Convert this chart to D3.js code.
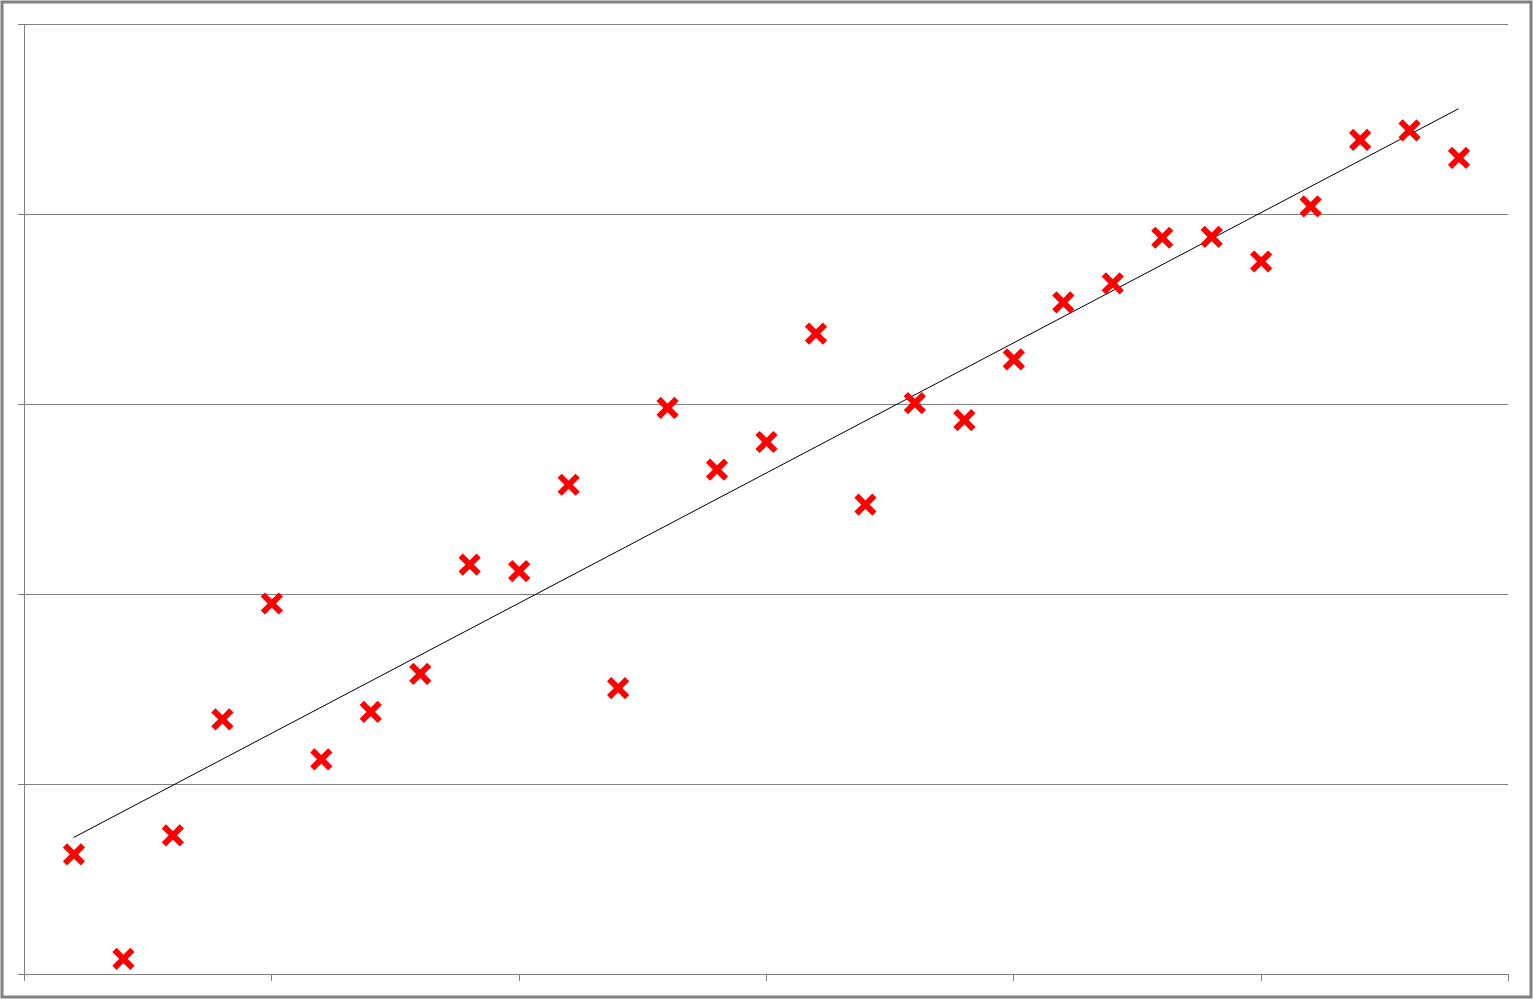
<!DOCTYPE html>
<meta charset="utf-8">
<title>Scatter with trend line</title>
<style>
    body { margin: 0; background: #fff; }
    svg { display: block; }
    .grid line { stroke: #808080; stroke-width: 1px; shape-rendering: crispEdges; }
    .axis path, .axis line { stroke: #808080; stroke-width: 1px; shape-rendering: crispEdges; }
    .trend { fill: none; stroke: #000; stroke-width: 1px; }
    .mark { stroke: #ff0000; stroke-width: 6px; }
</style>
<body>
<div id="chart"></div>
<script src="https://d3js.org/d3.v7.min.js"></script>
<script>

    // data
    var xValues = [1, 2, 3, 4, 5, 6, 7, 8, 9, 10, 11, 12, 13, 14, 15, 16, 17, 18, 19, 20,
                   21, 22, 23, 24, 25, 26, 27, 28, 29];
    var yValues = [12.6, 1.6, 14.6, 26.8, 39.0, 22.6, 27.6, 31.6, 43.1, 42.4, 51.5, 30.1,
                   59.6, 53.1, 56.0, 67.4, 49.4, 60.1, 58.3, 64.7, 70.7, 72.7, 77.5, 77.6,
                   75.0, 80.8, 87.8, 88.8, 85.9];
    var xTicks = [0, 5, 10, 15, 20, 25, 30];
    var yTicks = [0, 20, 40, 60, 80, 100];

    var W = 1534, H = 999;
    var margin = { top: 24, right: 26, bottom: 25, left: 24 },
        width = W - margin.left - margin.right,
        height = H - margin.top - margin.bottom;

    var svg = d3.select("#chart").append("svg")
        .attr("width", W)
        .attr("height", H);

    // outer frame
    svg.append("rect")
        .attr("x", 2).attr("y", 2)
        .attr("width", W - 4 - 1).attr("height", H - 4)
        .attr("fill", "none")
        .attr("stroke", "#808080")
        .attr("stroke-width", 3);

    var g = svg.append("g")
        .attr("transform", "translate(" + margin.left + "," + margin.top + ")");

    var x = d3.scaleLinear().domain([0, 30]).range([0, width]);
    var y = d3.scaleLinear().domain([0, 100]).range([height, 0]);

    // horizontal gridlines (extend over the tick marks on the left)
    g.append("g")
        .attr("class", "grid")
        .selectAll("line")
        .data(yTicks)
        .enter().append("line")
        .attr("x1", -6).attr("x2", width)
        .attr("y1", function (d) { return Math.round(y(d)) + 0.5; })
        .attr("y2", function (d) { return Math.round(y(d)) + 0.5; });

    // y axis line
    g.append("g")
        .attr("class", "axis")
        .call(d3.axisLeft(y).tickValues(yTicks).tickSize(6).tickFormat(""));

    // x axis
    g.append("g")
        .attr("class", "axis")
        .attr("transform", "translate(0," + height + ")")
        .call(d3.axisBottom(x).tickValues(xTicks).tickSize(7).tickSizeOuter(0).tickFormat(""));

    // linear trend from least squares
    var n = xValues.length;
    var mx = d3.mean(xValues), my = d3.mean(yValues);
    var sxy = 0, sxx = 0;
    for (var i = 0; i < n; i++) {
        sxy += (xValues[i] - mx) * (yValues[i] - my);
        sxx += (xValues[i] - mx) * (xValues[i] - mx);
    }
    var slope = sxy / sxx, icpt = my - slope * mx;
    var x0 = d3.min(xValues), x1 = d3.max(xValues);

    g.append("line")
        .attr("class", "trend")
        .attr("x1", x(x0)).attr("y1", y(icpt + slope * x0))
        .attr("x2", x(x1)).attr("y2", y(icpt + slope * x1));

    // markers
    var pts = xValues.map(function (v, i) { return { x: v, y: yValues[i] }; });
    var s = 9;
    var mk = g.append("g").selectAll("g")
        .data(pts)
        .enter().append("g")
        .attr("transform", function (d) { return "translate(" + (x(d.x) + 0.5) + "," + y(d.y) + ")"; });
    mk.append("line").attr("class", "mark")
        .attr("x1", -s).attr("y1", -s).attr("x2", s).attr("y2", s);
    mk.append("line").attr("class", "mark")
        .attr("x1", -s).attr("y1", s).attr("x2", s).attr("y2", -s);

</script>
</body>
